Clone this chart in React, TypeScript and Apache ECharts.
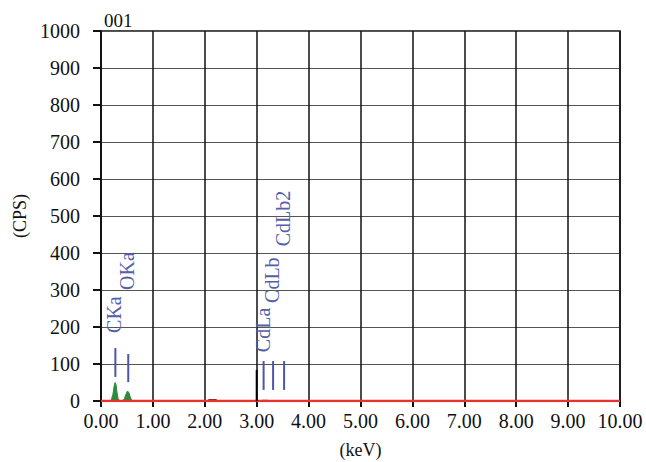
import React, { useEffect, useRef } from "react";
import * as echarts from "echarts";

const title = "001";
const xName = "(keV)";
const yName = "(CPS)";
const yTicks = [0, 100, 200, 300, 400, 500, 600, 700, 800, 900, 1000];

// spectrum parts [keV, CPS]
const baseline: [number, number][] = [[0, 0], [10, 0]];
const lightPeaks: [number, number][] = [
  [0.17, 0], [0.2, 4], [0.23, 18], [0.25, 38], [0.27, 50], [0.29, 44], [0.31, 22], [0.33, 6],
  [0.36, 1], [0.42, 1], [0.45, 6], [0.48, 18], [0.51, 27], [0.54, 22], [0.57, 8], [0.6, 1], [0.64, 0],
  [3.05, 0], [3.12, 2], [3.2, 2], [3.28, 0],
];
const smallPeak: [number, number][] = [[2.05, 0], [2.08, 4], [2.22, 4], [2.25, 0]];
const spike: [number, number][] = [[3.0, 0], [3.0, 84]];

// element markers: name, energy (keV), marker low/high (CPS), label start (CPS)
const markerNames = ["CKa", "OKa", "CdLa", "CdLb", "CdLb2"];
const markerEnergy = [0.277, 0.525, 3.133, 3.316, 3.528];
const markerLow = [65, 51, 30, 30, 30];
const markerHigh = [143, 127, 108, 108, 108];
const labelStart = [184, 300, 132, 265, 418];

const FONT = "'Liberation Serif', 'DejaVu Serif', serif";

export default function App() {
  const ref = useRef<HTMLDivElement>(null);
  useEffect(() => {
    const chart = echarts.init(ref.current!, null, { renderer: "svg" });
    const markerData = markerNames.map((n, i) => [markerEnergy[i], markerLow[i], markerHigh[i], labelStart[i], n]);
    chart.setOption({
      animation: false,
      backgroundColor: "#fff",
      textStyle: { fontFamily: FONT },
      title: {
        text: title,
        left: 99,
        top: 6,
        textStyle: { fontFamily: FONT, fontSize: 19, fontWeight: "normal", color: "#111" },
      },
      grid: {
        left: 101, right: 26, top: 31, bottom: 61,
        outerBoundsMode: "none",
        containLabel: false,
        show: true, borderColor: "#111", borderWidth: 1.5, backgroundColor: "transparent",
      },
      xAxis: {
        type: "value",
        min: 0,
        max: 10,
        interval: 1,
        name: xName,
        nameLocation: "middle",
        nameGap: 40,
        nameTextStyle: { fontFamily: FONT, fontSize: 18, color: "#111" },
        axisLine: { show: true, lineStyle: { color: "#111", width: 1.5 } },
        axisTick: { show: true, length: 6, lineStyle: { color: "#111", width: 2 } },
        axisLabel: { fontFamily: FONT, fontSize: 20, color: "#111", margin: 10, formatter: (v: number) => v.toFixed(2) },
        splitLine: { show: true, lineStyle: { color: "#111", width: 1.5 } },
      },
      yAxis: {
        type: "value",
        min: 0,
        max: 1000,
        interval: 100,
        name: yName,
        nameLocation: "middle",
        nameGap: 71,
        nameRotate: 90,
        nameTextStyle: { fontFamily: FONT, fontSize: 18, color: "#111" },
        axisLine: { show: true, lineStyle: { color: "#111", width: 1.5 } },
        axisTick: { show: true, length: 8, lineStyle: { color: "#111", width: 2 } },
        axisLabel: { fontFamily: FONT, fontSize: 20, color: "#111", margin: 21, formatter: (v: number) => (yTicks.includes(v) ? String(v) : "") },
        splitLine: { show: true, lineStyle: { color: "#555", width: 1.2 } },
      },
      series: [
        {
          type: "line",
          data: lightPeaks,
          showSymbol: false,
          lineStyle: { color: "#2e8b3e", width: 1 },
          areaStyle: { color: "#2e8b3e", opacity: 1 },
          z: 3,
        },
        {
          type: "line",
          data: smallPeak,
          showSymbol: false,
          lineStyle: { color: "#7a2a2a", width: 1 },
          areaStyle: { color: "#7a2a2a", opacity: 1 },
          z: 3,
        },
        {
          type: "line",
          data: baseline,
          showSymbol: false,
          lineStyle: { color: "#e8322e", width: 2.5 },
          z: 4,
        },
        {
          type: "line",
          data: spike,
          showSymbol: false,
          lineStyle: { color: "#000", width: 2 },
          z: 4,
        },
        {
          type: "custom",
          data: markerData,
          z: 5,
          renderItem: (params: any, api: any) => {
            const e = api.value(0);
            const p1 = api.coord([e, api.value(1)]);
            const p2 = api.coord([e, api.value(2)]);
            const p3 = api.coord([e, api.value(3)]);
            const name = markerNames[params.dataIndex];
            return {
              type: "group",
              children: [
                {
                  type: "line",
                  shape: { x1: p1[0], y1: p1[1], x2: p2[0], y2: p2[1] },
                  style: { stroke: "#4b56a8", lineWidth: 2 },
                },
                {
                  type: "text",
                  x: p3[0] - 1,
                  y: p3[1],
                  rotation: Math.PI / 2,
                  style: {
                    text: name,
                    fill: "#5560aa",
                    font: `20px ${FONT}`,
                    align: "left",
                    verticalAlign: "middle",
                  },
                },
              ],
            };
          },
        },
      ],
    });
    return () => chart.dispose();
  }, []);
  return <div ref={ref} style={{ width: 646, height: 462, position: "absolute", left: 0, top: 0 }} />;
}
